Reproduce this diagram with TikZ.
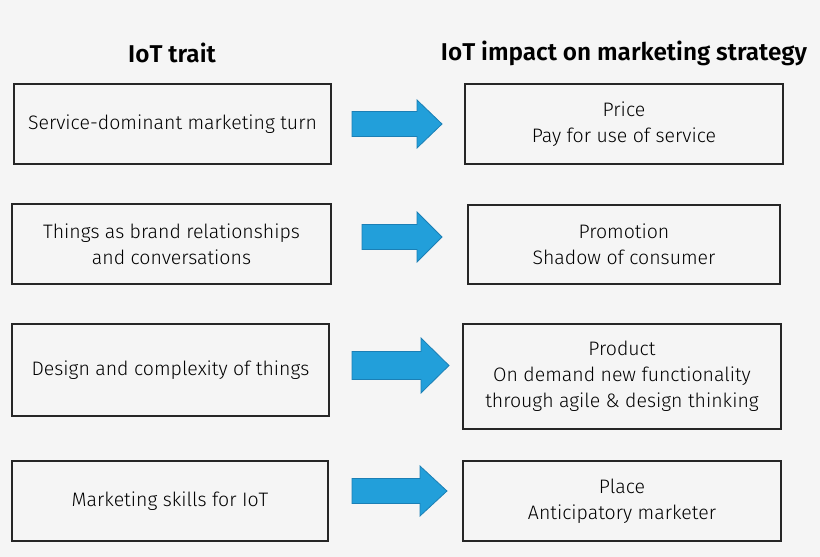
\documentclass[tikz,border=0pt]{standalone}
\usepackage{fontspec}
\setmainfont{Fira Sans Light}
\newfontfamily\headfont{Fira Sans SemiBold}
\definecolor{bgcol}{HTML}{F5F5F5}
\definecolor{arrowblue}{HTML}{229FDA}
\definecolor{arrowline}{HTML}{1B7FB5}
\tikzset{
    traitbox/.style={draw=black!85,line width=1.6pt,align=center,font=\fontsize{19.5}{26}\selectfont},
    headtext/.style={font=\headfont\fontsize{24.3}{29}\selectfont},
    bluearrow/.style={fill=arrowblue,draw=arrowline,line width=0.8pt,line join=miter}
}
% block arrow: start x, mid y, length, shaft half width, head half width, head length
\newcommand\blockarrow[6]{%
    \draw[bluearrow] (#1,#2-#4) -- ++(#3-#6,0) -- (#1+#3-#6,#2-#5) -- (#1+#3,#2)
        -- (#1+#3-#6,#2+#5) -- (#1+#3-#6,#2+#4) -- (#1,#2+#4) -- cycle;}
\begin{document}
\begin{tikzpicture}[x=1pt,y=-1pt]
    \fill[bgcol] (0,0) rectangle (820,557);
    \useasboundingbox (0,0) rectangle (820,557);

    % headers
    \node[headtext] (hl) at (172,53) {IoT trait};
    \node[headtext] (hr) at (624,53) {IoT impact on marketing strategy};

    % left column
    \node[traitbox,minimum width=317pt,minimum height=80pt] (t1) at (172.5,124) {Service-dominant marketing turn};
    \node[traitbox,minimum width=319pt,minimum height=80pt] (t2) at (171.5,244) {Things as brand relationships\\and conversations};
    \node[traitbox,minimum width=317pt,minimum height=92pt] (t3) at (170.5,370) {Design and complexity of things};
    \node[traitbox,minimum width=316pt,minimum height=80pt] (t4) at (170,501) {Marketing skills for IoT};

    % right column
    \node[traitbox,minimum width=318pt,minimum height=80pt] (s1) at (624,124) {Price\\Pay for use of service};
    \node[traitbox,minimum width=312pt,minimum height=79pt] (s2) at (624,244.5) {Promotion\\Shadow of consumer};
    \node[traitbox,minimum width=318pt,minimum height=105pt] (s3) at (622,376.5) {Product\\On demand new functionality\\through agile \& design thinking};
    \node[traitbox,minimum width=318pt,minimum height=80pt] (s4) at (622,501) {Place\\Anticipatory marketer};

    % arrows
    \blockarrow{352}{124}{90}{12.5}{24}{25}
    \blockarrow{362}{237}{80}{12.5}{25}{25}
    \blockarrow{352}{365.5}{97}{14}{27.5}{28}
    \blockarrow{352}{491}{95}{12.5}{25}{27}
\end{tikzpicture}
\end{document}
